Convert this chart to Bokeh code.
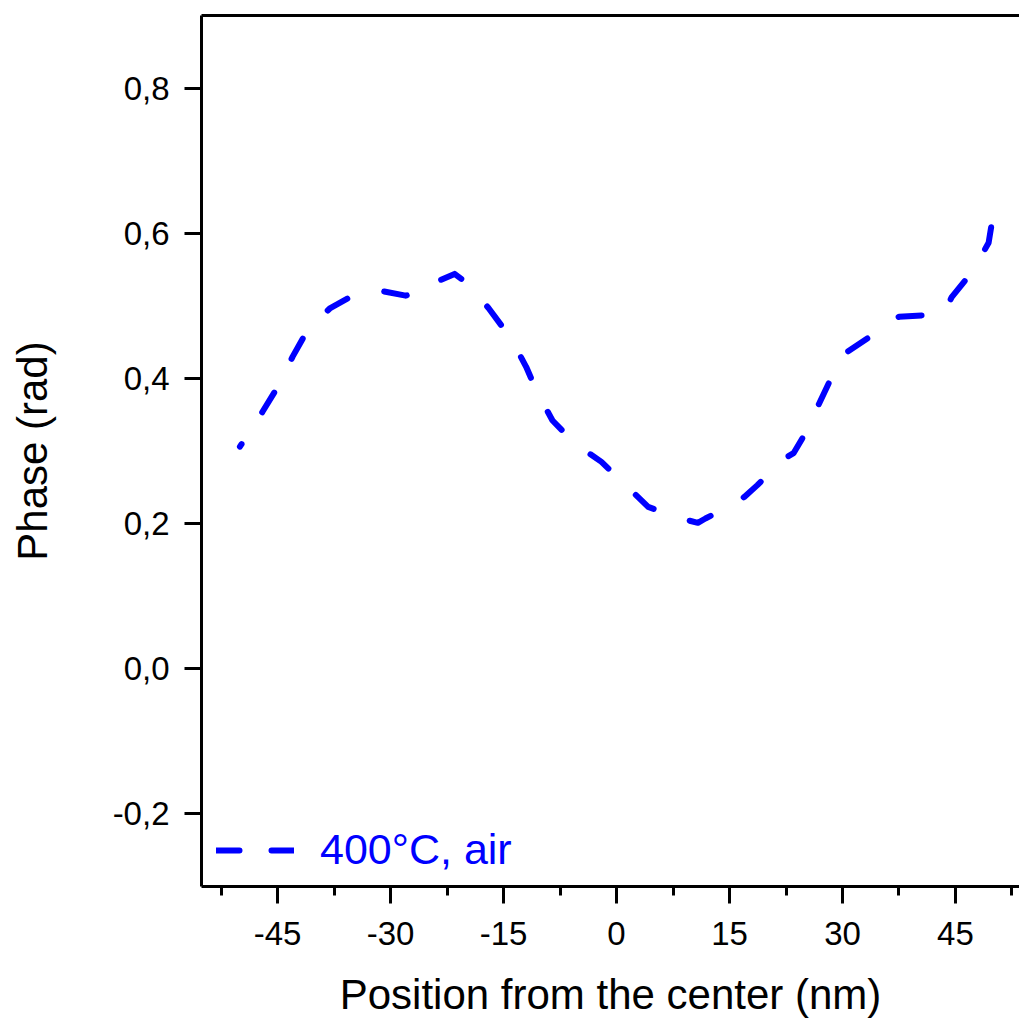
from bokeh.plotting import figure
from bokeh.models import LinearAxis, FixedTicker, CustomJSTickFormatter, Range1d, Legend, LegendItem
from bokeh.embed import file_html
from bokeh.resources import INLINE

# ---- data ----
x_nm = [-50, -47, -45, -43, -41, -38, -35, -31, -28, -26.5, -23.5, -21.5, -19.8,
        -17, -14, -12, -10.5, -8.5, -5.5, -2, 1.5, 4.2, 8.2, 10.8, 11.8, 15.8, 17,
        18.7, 22.2, 23.5, 24.7, 26.7, 28.2, 30.4, 34, 37.5, 41, 43.5, 44.5, 47,
        48.5, 49.4, 50]
phase_rad = [0.306, 0.354, 0.388, 0.43, 0.467, 0.497, 0.514, 0.52, 0.514, 0.518,
             0.535, 0.544, 0.531, 0.497, 0.455, 0.416, 0.38, 0.342, 0.31, 0.285,
             0.25, 0.223, 0.208, 0.201, 0.207, 0.228, 0.237, 0.253, 0.289, 0.297,
             0.318, 0.361, 0.394, 0.435, 0.46, 0.485, 0.487, 0.49, 0.512, 0.544,
             0.57, 0.587, 0.625]
series_label = "400°C, air"
x_title = "Position from the center (nm)"
y_title = "Phase (rad)"

x_major_ticks = [-45, -30, -15, 0, 15, 30, 45]
x_minor_ticks = [-52.5, -37.5, -22.5, -7.5, 7.5, 22.5, 37.5, 52.5]
y_major_ticks = [-0.2, 0.0, 0.2, 0.4, 0.6, 0.8]

FONT = "Liberation Sans"
BLUE = "#0000FF"

p = figure(width=1019, height=1020, output_backend="svg", toolbar_location=None,
           x_range=Range1d(-55.1, 53.5), y_range=Range1d(-0.3, 0.9),
           min_border_left=201, min_border_top=15, min_border_right=0,
           min_border_bottom=134)
p.outline_line_color = None
p.grid.visible = False
p.background_fill_color = "white"
p.border_fill_color = "white"

p.line(x_nm, phase_rad, line_width=6, line_color=BLUE, line_dash="23 38",
       line_dash_offset=20, line_cap="round", line_join="round")

# renderer used only for the legend swatch (placed outside the visible range)
swatch = p.line([-200, -199], [-5, -5], line_width=6, line_color=BLUE,
                line_dash="23 32", line_cap="round", line_join="round")

# x axis
xa = p.xaxis[0]
xa.ticker = FixedTicker(ticks=x_major_ticks, minor_ticks=x_minor_ticks)
xa.formatter = CustomJSTickFormatter(code="return tick.toString();")
xa.axis_label = x_title
# y axis
ya = p.yaxis[0]
ya.ticker = FixedTicker(ticks=y_major_ticks, minor_ticks=[])
ya.formatter = CustomJSTickFormatter(code="return tick.toFixed(1).replace('.', ',');")
ya.axis_label = y_title

for ax in (xa, ya):
    ax.axis_line_width = 3
    ax.major_tick_line_width = 3
    ax.minor_tick_line_width = 3
    ax.major_tick_in = 0
    ax.major_tick_out = 17
    ax.minor_tick_in = 0
    ax.minor_tick_out = 9
    ax.major_label_text_font = FONT
    ax.major_label_text_font_size = "33px"
    ax.major_label_text_color = "black"
    ax.axis_label_text_font = FONT
    ax.axis_label_text_font_size = "42px"
    ax.axis_label_text_font_style = "normal"
    ax.axis_label_text_color = "black"

xa.major_label_standoff = 18
xa.axis_label_standoff = 23
ya.major_label_standoff = 15
ya.axis_label_standoff = 54

top = LinearAxis(ticker=FixedTicker(ticks=[]), axis_line_width=3,
                 major_tick_out=0, major_tick_in=0, minor_tick_out=0, minor_tick_in=0,
                 major_label_text_font_size="0px")
p.add_layout(top, "above")

lg = Legend(items=[LegendItem(label=series_label, renderers=[swatch])])
lg.location = (15, 12)
lg.border_line_color = None
lg.background_fill_alpha = 0
lg.padding = 0
lg.margin = 0
lg.spacing = 0
lg.glyph_width = 78
lg.glyph_height = 40
lg.label_height = 40
lg.label_standoff = 26
lg.label_text_font = FONT
lg.label_text_font_size = "43px"
lg.label_text_color = BLUE
p.add_layout(lg, "center")

open("out.html", "w").write(file_html(p, INLINE))
